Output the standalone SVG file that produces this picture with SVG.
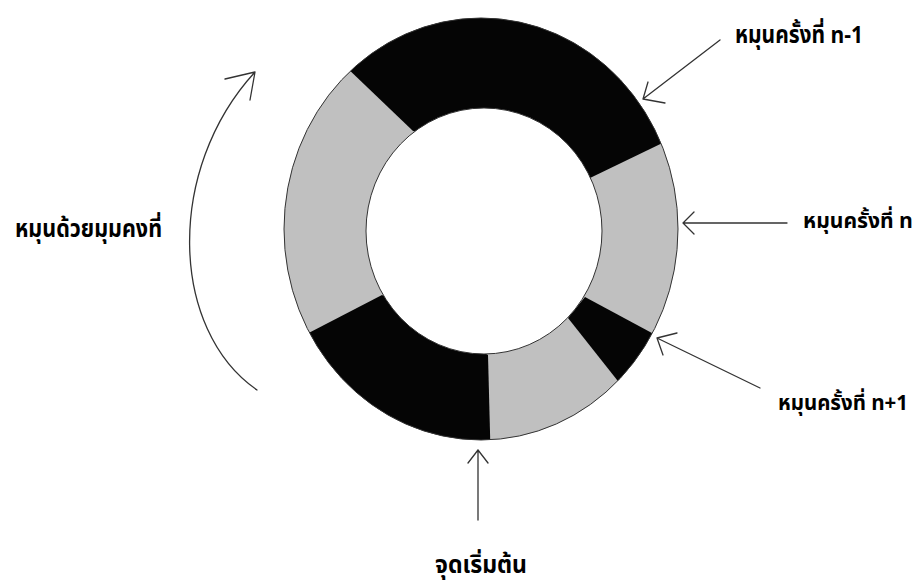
<svg xmlns="http://www.w3.org/2000/svg" width="922" height="586" viewBox="0 0 922 586">
<style>
.lbl{font-family:"Noto Sans Thai","Noto Serif Thai","Noto Sans","DejaVu Sans",sans-serif;font-weight:bold;font-size:24px;fill:#000}
.sm{font-size:21px}
.ln{fill:none;stroke:#333;stroke-width:1.3;stroke-linecap:round;stroke-linejoin:round}
.blk{fill:#050505}
</style>
<defs>
<clipPath id="outer"><ellipse cx="481" cy="229" rx="197" ry="211"/></clipPath>
</defs>
<rect width="922" height="586" fill="#fff"/>
<g id="ring">
<ellipse cx="481" cy="229" rx="197" ry="211" fill="#c0c0c0"/>
<g clip-path="url(#outer)">
<polygon class="blk" points="413,131 320,42 400,-10 560,-10 720,60 700,125 590,178"/>
<polygon class="blk" points="585,297 700,359 720,420 640,409 568,318"/>
<polygon class="blk" points="488,355 491,470 300,470 250,380 270,353 382,295"/>
</g>
<ellipse cx="481" cy="229" rx="197" ry="211" fill="none" stroke="#333" stroke-width="1"/>
<ellipse cx="484" cy="231" rx="118" ry="123" fill="#fff" stroke="#333" stroke-width="1"/>
</g>
<g id="connectors">
<path class="ln" d="M720,40 L643,99 M648,82 L643,99 L665,103"/>
<path class="ln" d="M787,223 L683,223 M694,212 L683,223 L694,234"/>
<path class="ln" d="M760,388 L657,338 M677,333 L657,338 L663,355"/>
<path class="ln" d="M478,520 L478,450 M468,463 L478,450 L488,463"/>
<path class="ln" d="M257,390 C170,330 165,170 255,72 M225,79 L255,72 L250,100"/>
</g>
<g id="label-n-1"><text class="lbl" x="735" y="43" textLength="128" lengthAdjust="spacingAndGlyphs">หมุนครั้งที่ n-1</text></g>
<g id="label-n"><text class="lbl sm" x="803" y="228" textLength="110" lengthAdjust="spacingAndGlyphs">หมุนครั้งที่ n</text></g>
<g id="label-n1"><text class="lbl sm" x="778" y="410" textLength="130" lengthAdjust="spacingAndGlyphs">หมุนครั้งที่ n+1</text></g>
<g id="label-start"><text class="lbl" x="435" y="573" textLength="92" lengthAdjust="spacingAndGlyphs">จุดเริ่มต้น</text></g>
<g id="label-rotate"><text class="lbl" x="15" y="237" textLength="147" lengthAdjust="spacingAndGlyphs">หมุนด้วยมุมคงที่</text></g>
</svg>
